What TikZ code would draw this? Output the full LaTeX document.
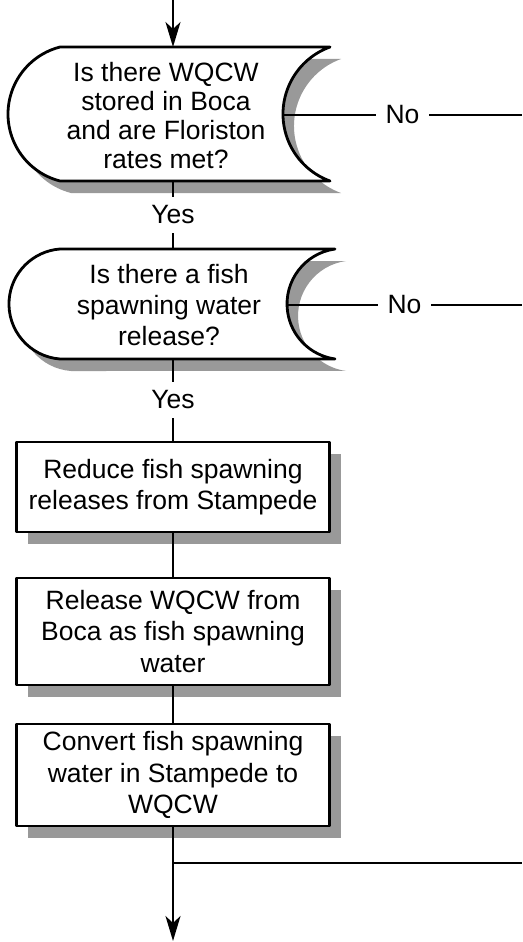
\documentclass[tikz,border=0pt]{standalone}
\usepackage{fontspec}
\setmainfont{Liberation Sans}
\usetikzlibrary{arrows.meta,shadows}
\definecolor{shadowgray}{RGB}{153,153,153}
\begin{document}
\begin{tikzpicture}[x=1pt,y=1pt,
  txt/.style={font=\fontsize{26.5}{29}\selectfont, align=center, inner sep=0pt},
  outline/.style={draw=black, line width=2.8pt, fill=white, line join=round},
  shade/.style={fill=shadowgray, draw=none},
  stepbox/.style={outline, txt, rectangle, minimum width=313pt,
    font=\fontsize{26.5}{31.5}\selectfont,
    drop shadow={shadow xshift=11pt, shadow yshift=-12pt, fill=shadowgray, opacity=1}},
  link/.style={line width=2.2pt},
  flow/.style={link, -{Stealth[length=25pt,width=15pt,inset=7pt]}},
  answer/.style={fill=white, inner xsep=10pt, inner ysep=9pt, font=\fontsize{26.5}{29}\selectfont}
]
\useasboundingbox (0,0) rectangle (522,-942);

% first decision: rounded on the left, hollowed on the right
\path[shade, shift={(11,-12)}] (60,-47) -- (330,-47)
  arc[start angle=109.9, end angle=250.1, radius=71.26] -- (60,-181)
  arc[start angle=255.63, end angle=104.37, radius=69.16] -- cycle;
\path[outline] (60,-47) -- (330,-47)
  arc[start angle=109.9, end angle=250.1, radius=71.26] -- (60,-181)
  arc[start angle=255.63, end angle=104.37, radius=69.16] -- cycle;
\node[txt] (d1) at (166,-116) {Is there WQCW\\stored in Boca\\and are Floriston\\rates met?};
\coordinate (d1n) at (173,-47);
\coordinate (d1s) at (173,-181);
\coordinate (d1e) at (283,-115);
\coordinate (d1out) at (522,-115);

% second decision
\path[shade, shift={(11,-12)}] (60,-249) -- (335,-249)
  arc[start angle=97.8, end angle=262.2, radius=55.5] -- (60,-359)
  arc[start angle=265.7, end angle=94.3, radius=55.16] -- cycle;
\path[outline] (60,-249) -- (335,-249)
  arc[start angle=97.8, end angle=262.2, radius=55.5] -- (60,-359)
  arc[start angle=265.7, end angle=94.3, radius=55.16] -- cycle;
\node[txt, font=\fontsize{26.5}{31}\selectfont] (d2) at (169,-305) {Is there a fish\\spawning water\\release?};
\coordinate (d2n) at (173,-249);
\coordinate (d2s) at (173,-359);
\coordinate (d2e) at (287,-305);
\coordinate (d2out) at (522,-305);

% process steps
\node[stepbox, minimum height=90pt] (b1) at (173,-487) {Reduce fish spawning\\releases from Stampede};
\node[stepbox, minimum height=107pt] (b2) at (173,-631.5) {Release WQCW from\\Boca as fish spawning\\water};
\node[stepbox, minimum height=102pt] (b3) at (173,-775) {Convert fish spawning\\water in Stampede to\\WQCW};

% connectors
\coordinate (start) at (173,0);
\coordinate (split) at (173,-863);
\coordinate (exit) at (522,-863);
\coordinate (finish) at (173,-941);

\draw[flow] (start) -- (d1n);
\draw[link] (d1s) -- node[answer]{Yes} (d2n);
\draw[link] (d1e) -- node[answer]{No} (d1out);
\draw[link] (d2s) -- node[answer]{Yes} (b1.north);
\draw[link] (d2e) -- node[answer]{No} (d2out);
\draw[link] (b1.south) -- (b2.north);
\draw[link] (b2.south) -- (b3.north);
\draw[flow] (b3.south) -- (finish);
\draw[link] (split) -- (exit);
\end{tikzpicture}
\end{document}
